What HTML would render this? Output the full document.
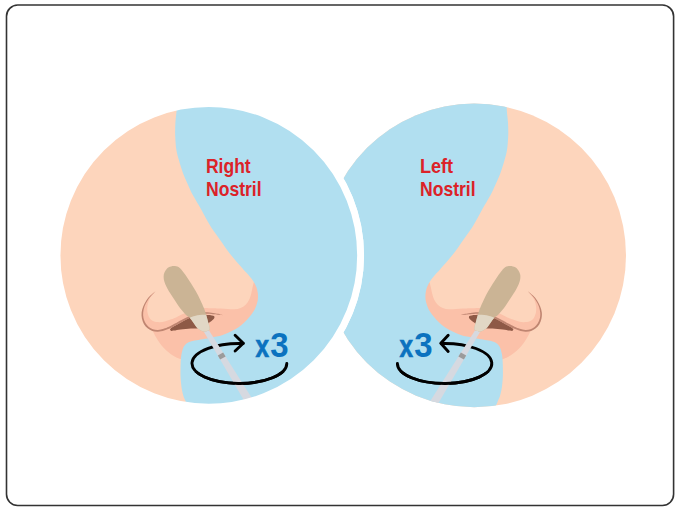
<!DOCTYPE html>
<html lang="en"><head><meta charset="utf-8"><title>Nasal swab</title>
<style>html,body{margin:0;padding:0;background:#fff;}body{width:680px;height:511px;overflow:hidden;font-family:"Liberation Sans",sans-serif;}svg{display:block;}</style></head>
<body>
<svg width="680" height="511" viewBox="0 0 680 511">
<defs>
<clipPath id="lc"><circle cx="208.8" cy="255.4" r="151.8"/></clipPath>
<clipPath id="rc"><circle cx="474.2" cy="255.4" r="151.8"/></clipPath>
<clipPath id="swabclip"><path d="M173.7 265.9C175.3 265.9 177.1 266.2 178.5 267C179.9 267.8 180.7 268.8 182 270.4C183.3 272 185 274.2 186.5 276.4C188 278.6 189.6 281.1 191.1 283.5C192.6 285.9 194.2 288.4 195.7 291.1C197.2 293.8 198.9 297 200.3 299.9C201.7 302.8 203 305.8 204 308.3C205 310.8 205.5 312.6 206.2 315C206.9 317.4 207.8 320.8 208.4 323C209 325.2 209.7 327.1 209.7 328.4C209.7 329.7 209.2 330.1 208.4 330.6C207.6 331.1 206.1 331.5 205.1 331.6C204.1 331.7 203.4 331.5 202.4 331.2C201.4 330.9 200.3 330.4 199.3 329.6C198.3 328.9 197.2 327.9 196.2 326.7C195.2 325.5 194.1 323.8 193.1 322.3C192.1 320.8 191 319.1 189.9 317.9C188.8 316.7 187.6 316.5 186.3 315.3C185 314.1 183.4 312.2 182.1 310.6C180.8 309 179.5 307.2 178.2 305.4C176.9 303.6 175.6 301.5 174.3 299.6C173.1 297.7 171.8 295.9 170.7 294.1C169.6 292.3 168.4 290.4 167.5 288.7C166.6 287 165.8 285.6 165.2 284C164.6 282.4 164 280.9 163.8 279.3C163.6 277.7 163.5 276.1 163.8 274.6C164.1 273.1 164.9 271.5 165.7 270.3C166.5 269.1 167.5 267.9 168.8 267.2C170.1 266.5 172.1 265.9 173.7 265.9Z"/></clipPath>
<g id="nose"><path d="M155.3 291.5C154.4 292.7 151 296.4 149.7 298.8C148.4 301.2 147.9 303.3 147.5 305.6C147.1 307.9 147.1 310.4 147.5 312.5C147.9 314.6 148.7 316.8 149.7 318.3C150.7 319.8 152 320.7 153.6 321.3C155.2 321.9 157.5 322.2 159.5 322.2C161.5 322.2 163.5 321.8 165.4 321.3C167.3 320.8 169.4 320 171.2 319.3C173 318.6 173.9 318.3 176 317.4C178.1 316.5 181.5 314.6 183.5 313.8C185.5 313 185.6 313.2 187.8 312.5C190.1 311.8 194.5 310.6 197 309.8C199.5 309.1 199.9 308.2 202.6 308C205.3 307.8 210.2 308.2 213.2 308.3C216.1 308.4 217.9 308.5 220.3 308.6C222.7 308.7 225.1 309 227.4 309.1C229.8 309.2 232.2 309.5 234.4 309.3C236.6 309.1 238.8 308.6 240.6 307.9C242.4 307.2 244 306.2 245.4 304.9C246.8 303.6 248 301.9 249 300C250 298.1 250.6 295.9 251.2 293.8C251.8 291.7 252.1 289.5 252.5 287.6C252.9 285.8 253.5 283.3 253.7 282.4L262 283L262 360L181.3 360C181 358.8 180.6 359.1 179.6 358.8C178.6 358.5 177.3 358.1 175.6 357.1C173.9 356.2 171.3 354.6 169.4 353.1C167.5 351.6 165.7 349.9 164.1 348.2C162.5 346.5 161 344.7 159.7 342.9C158.4 341.1 157.2 339.4 156.2 337.6C155.2 335.9 154.2 333.7 153.5 332.4C152.8 331.1 152.9 330.8 152 330C151.1 329.2 149.4 328.7 148.2 327.6C147 326.6 145.7 325.2 144.8 323.7C143.9 322.1 143.1 320.2 142.7 318.3C142.3 316.4 142.2 314.4 142.4 312.5C142.6 310.6 143.1 308.6 143.8 306.6C144.5 304.6 145.7 302.5 146.8 300.7C148 298.9 149.3 297.3 150.7 295.8C152.1 294.3 154.5 292.2 155.3 291.5Z" fill="#fbc1a9"/><path d="M176.8 98C176.8 100 176.8 106.2 176.6 110.3C176.4 114.4 175.6 118.3 175.4 122.6C175.2 126.9 175 131.3 175.2 135.9C175.4 140.5 175.8 146.2 176.4 150C177 153.8 177.7 155.9 178.5 158.8C179.3 161.7 180.2 164.7 181.2 167.7C182.2 170.6 183.1 173.6 184.3 176.5C185.5 179.4 186.8 182.2 188.2 185.3C189.6 188.4 190.6 190.9 192.8 195C195.1 199.1 198.7 205 201.5 210C204.3 215 207.4 221 209.8 225C212.2 229 213.6 230.9 215.7 233.8C217.8 236.7 220 239.7 222.1 242.7C224.2 245.6 226 248.6 228.2 251.5C230.4 254.4 232.7 257.2 235.3 260.3C237.9 263.4 241.7 267.6 243.8 270C245.9 272.4 246.8 272.9 248.1 274.4C249.4 275.9 250.5 277.3 251.6 278.8C252.7 280.3 253.7 281.7 254.5 283.2C255.3 284.7 256 286.2 256.5 287.6C257 289.1 257.4 290.5 257.6 292C257.9 293.5 258 295 258 296.5C258 298 257.9 299.4 257.6 300.9C257.3 302.3 256.9 303.7 256.4 305.2C255.9 306.7 255.3 308.4 254.4 310C253.5 311.6 252.5 313.1 251.2 314.8C249.9 316.5 248.4 318.3 246.8 320C245.2 321.7 243.4 323.3 241.5 324.9C239.6 326.4 237.5 328 235.3 329.3C233.1 330.6 230.5 331.8 228.2 332.8C225.8 333.8 223.4 334.7 221.2 335.4C219 336.1 217.3 336.3 215 336.8C212.7 337.3 209.9 338 207.2 338.5C204.4 339 201.1 339.4 198.5 339.9C195.9 340.3 193.6 340.5 191.5 341.2C189.4 341.9 187.6 342.6 186.2 343.8C184.8 345 183.9 346.3 183.1 348.2C182.3 350.1 181.7 353 181.3 355.3C180.9 357.6 180.8 359.8 180.7 362C180.6 364.2 180.5 366.2 180.5 368.8C180.5 371.4 180.4 374.7 180.6 377.6C180.8 380.6 181 383.6 181.4 386.5C181.8 389.4 182.5 392.8 183.2 395.3C183.9 397.8 184.6 398.9 185.7 401.5C186.8 404.1 188.9 409.4 189.5 411L380 412L380 98Z" fill="#b1dff0"/><path d="M170.1 329.6C170.1 329.2 170.1 328.9 171 328.2C171.9 327.5 173.3 326.9 175.4 325.6C177.5 324.4 181.4 322 183.7 320.7C186 319.4 187.2 318.8 189.3 317.9C191.4 317 193.3 315.9 196 315.4C198.7 314.9 202.4 314.6 205.3 314.7C208.2 314.8 211.8 315.2 213.3 315.8C214.8 316.4 214.6 317.1 214.3 318C214 318.9 212.5 320.2 211.5 321.1C210.5 322 209.8 322.4 208.4 323.2C207 324 204.7 325.1 203 326C201.3 326.9 200.1 327.9 198.1 328.3C196.1 328.7 193.8 328.4 190.9 328.6C188 328.8 183.4 329.2 180.6 329.5C177.8 329.8 175.6 330.4 174 330.6C172.4 330.8 171.8 331.1 171.2 330.9C170.5 330.7 170.1 330.1 170.1 329.6Z" fill="#8e5946"/><path d="M155.2 291.4C154.4 292.1 151.9 294 150.4 295.5C148.9 297 147.5 298.6 146.3 300.4C145.1 302.2 144 304.4 143.2 306.4C142.4 308.4 141.8 310.4 141.6 312.4C141.4 314.4 141.5 316.5 141.9 318.5C142.3 320.4 143.1 322.5 144 324.2C145 325.8 146.2 327.2 147.6 328.3C149 329.5 150.6 330.4 152.3 331C154 331.6 156.1 331.9 158 331.8C160 331.7 162.2 331 164.2 330.5C166.1 329.9 167.6 329.4 169.7 328.5C171.7 327.6 174.6 326.1 176.5 325.1C178.3 324.1 178.9 323.5 180.9 322.5C182.8 321.4 185.6 319.9 188.2 318.7C190.8 317.6 193.6 316.4 196.2 315.6C198.9 314.8 201.6 314.1 204.4 313.9C207.1 313.7 210.7 314.1 212.9 314.3C215.2 314.4 216.3 314.6 217.9 314.8C219.6 314.9 222 315.1 222.8 315.2C222 314.8 219.7 314.2 218.1 313.8C216.4 313.5 215.4 313.2 213.1 312.9C210.8 312.7 207.1 312.1 204.2 312.3C201.4 312.5 198.6 313.1 195.8 313.8C192.9 314.6 190 315.7 187.4 316.9C184.8 318 181.9 319.6 179.9 320.7C177.9 321.8 177.4 322.3 175.5 323.3C173.7 324.3 170.9 325.8 168.9 326.7C166.9 327.6 165.5 328.2 163.6 328.7C161.8 329.3 159.8 329.9 158 330C156.2 330.1 154.4 329.7 152.9 329.2C151.4 328.7 150 327.9 148.8 326.9C147.6 325.9 146.5 324.7 145.6 323.2C144.7 321.8 143.9 319.9 143.5 318.1C143.1 316.3 143 314.5 143.2 312.6C143.3 310.7 143.8 308.8 144.4 306.8C145.1 304.9 146.2 302.8 147.3 301C148.4 299.2 149.6 297.6 151 296.1C152.3 294.5 154.7 292.3 155.4 291.6Z" fill="#bf8571"/></g>
<g id="swab"><path d="M200.5 326L206.2 326L255 403L246.7 405Z" fill="#d6d9e0"/><path d="M217.8 355.6L223.1 352.6L225.6 356.6L220.1 359.6Z" fill="#9b9b9b"/><path d="M173.7 265.9C175.3 265.9 177.1 266.2 178.5 267C179.9 267.8 180.7 268.8 182 270.4C183.3 272 185 274.2 186.5 276.4C188 278.6 189.6 281.1 191.1 283.5C192.6 285.9 194.2 288.4 195.7 291.1C197.2 293.8 198.9 297 200.3 299.9C201.7 302.8 203 305.8 204 308.3C205 310.8 205.5 312.6 206.2 315C206.9 317.4 207.8 320.8 208.4 323C209 325.2 209.7 327.1 209.7 328.4C209.7 329.7 209.2 330.1 208.4 330.6C207.6 331.1 206.1 331.5 205.1 331.6C204.1 331.7 203.4 331.5 202.4 331.2C201.4 330.9 200.3 330.4 199.3 329.6C198.3 328.9 197.2 327.9 196.2 326.7C195.2 325.5 194.1 323.8 193.1 322.3C192.1 320.8 191 319.1 189.9 317.9C188.8 316.7 187.6 316.5 186.3 315.3C185 314.1 183.4 312.2 182.1 310.6C180.8 309 179.5 307.2 178.2 305.4C176.9 303.6 175.6 301.5 174.3 299.6C173.1 297.7 171.8 295.9 170.7 294.1C169.6 292.3 168.4 290.4 167.5 288.7C166.6 287 165.8 285.6 165.2 284C164.6 282.4 164 280.9 163.8 279.3C163.6 277.7 163.5 276.1 163.8 274.6C164.1 273.1 164.9 271.5 165.7 270.3C166.5 269.1 167.5 267.9 168.8 267.2C170.1 266.5 172.1 265.9 173.7 265.9Z" fill="#cbb495"/><g clip-path="url(#swabclip)"><path d="M184 322C184.9 321.3 187.6 318.9 189.4 317.9C191.2 316.9 193.1 316.5 194.8 316C196.5 315.5 198.1 315.3 199.7 315.1C201.3 314.9 202.7 314.8 204.6 314.8C206.5 314.8 209.9 315.1 211 315.2L215 340L190 340Z" fill="#e1d7c5"/></g></g>
<clipPath id="low"><rect x="0" y="372" width="680" height="60"/></clipPath>
</defs>
<rect width="680" height="511" fill="#fff"/>
<rect x="6.5" y="5.05" width="667.1" height="500.5" rx="11.2" ry="11.2" fill="#fff" stroke="#333333" stroke-width="1.6"/>
<g clip-path="url(#rc)">
<rect x="300" y="90" width="340" height="330" fill="#fdd5bc"/>
<g transform="translate(683.4 0) scale(-1 1)"><use href="#nose"/></g>
<path d="M397.4 363.4A47.2 20 0 1 0 441.2 343.5" fill="none" stroke="#000" stroke-width="2.9" stroke-linecap="round"/>
<path d="M448.2 335.3L440.8 343.3L448.2 351.4" fill="none" stroke="#000" stroke-width="2.9" stroke-linecap="round" stroke-linejoin="round"/>
<g transform="translate(684 0) scale(-1 1)"><use href="#swab"/></g>
<g clip-path="url(#low)"><path d="M397.4 363.4A47.2 20 0 1 0 441.2 343.5" fill="none" stroke="#000" stroke-width="2.9" stroke-linecap="round"/></g>
</g>
<circle cx="208.8" cy="255.4" r="155.2" fill="#fff"/>
<g clip-path="url(#lc)">
<rect x="40" y="90" width="340" height="330" fill="#fdd5bc"/>
<use href="#nose"/>
<path d="M286.8 363.4A47.4 20 0 1 1 243.2 343.5" fill="none" stroke="#000" stroke-width="2.9" stroke-linecap="round"/>
<path d="M235.1 335.3L243.3 343.3L235.1 351" fill="none" stroke="#000" stroke-width="2.9" stroke-linecap="round" stroke-linejoin="round"/>
<use href="#swab"/>
<g clip-path="url(#low)"><path d="M286.8 363.4A47.4 20 0 1 1 243.2 343.5" fill="none" stroke="#000" stroke-width="2.9" stroke-linecap="round"/></g>
</g>
<circle cx="208.8" cy="255.4" r="151.8" fill="none" stroke="#fff" stroke-width="6.9"/>
<g font-family="'Liberation Sans', sans-serif" font-weight="bold" fill="#dc2228">
<text transform="translate(205.97 172.70) scale(0.8980 1)" font-size="19.5">Right</text>
<text transform="translate(205.97 195.70) scale(0.9020 1)" font-size="19.5">Nostril</text>
<text transform="translate(419.93 172.70) scale(0.9300 1)" font-size="19.5">Left</text>
<text transform="translate(419.97 195.70) scale(0.9020 1)" font-size="19.5">Nostril</text>
</g>
<g font-family="'Liberation Sans', sans-serif" font-weight="bold" fill="#0b72bf">
<text transform="translate(255.46 356.50) scale(0.8000 1)" font-size="30.5" stroke="#0b72bf" stroke-width="0.7">x</text>
<text transform="translate(270.24 356.90) scale(0.9620 1)" font-size="34.3">3</text>
<text transform="translate(399.46 356.50) scale(0.8000 1)" font-size="30.5" stroke="#0b72bf" stroke-width="0.7">x</text>
<text transform="translate(414.24 356.90) scale(0.9620 1)" font-size="34.3">3</text>
</g>
</svg>
</body></html>
